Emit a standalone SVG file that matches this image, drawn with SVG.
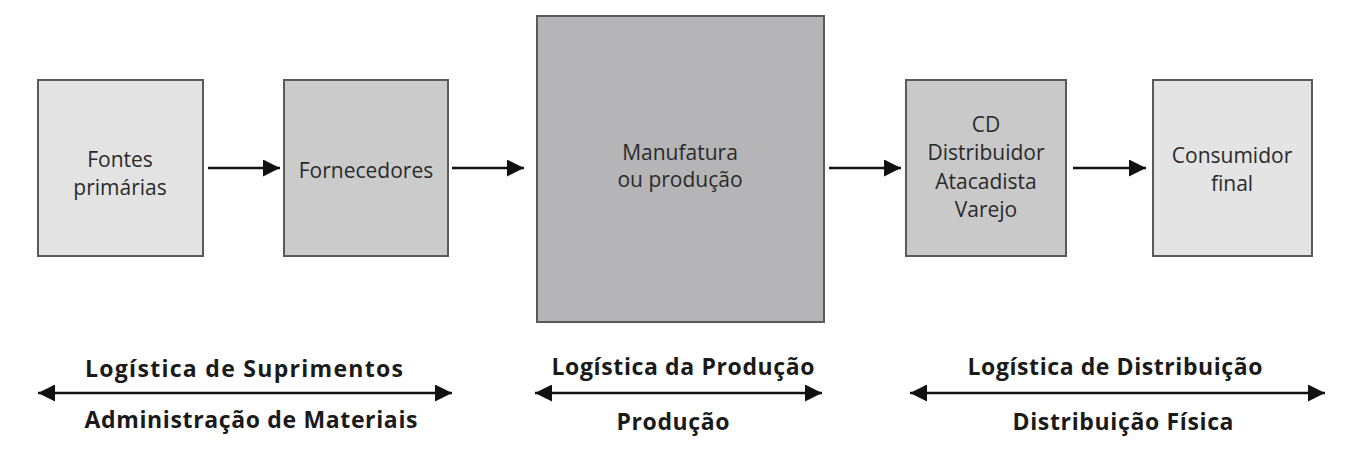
<svg xmlns="http://www.w3.org/2000/svg" width="1370" height="455" viewBox="0 0 1370 455">
<defs>
<style>
.box{stroke:#5a5a5a;stroke-width:2}
.t{font-family:"Open Sans","Noto Sans",sans-serif;font-size:21px;fill:#2a2a2a;text-anchor:middle}
.b{font-family:"Open Sans","Noto Sans",sans-serif;font-size:23px;font-weight:bold;fill:#1a1a1a;text-anchor:middle}
.c{stroke:#111;stroke-width:2.5;fill:none}
</style>
<marker id="ah" viewBox="0 0 10 10" refX="10" refY="5" markerWidth="19" markerHeight="17" markerUnits="userSpaceOnUse" orient="auto-start-reverse">
<path d="M0,0 L10,5 L0,10 Z" fill="#111"/>
</marker>
</defs>
<rect width="1370" height="455" fill="#ffffff"/>
<g id="n1"><rect class="box" x="38" y="80" width="165" height="176" fill="#e3e3e3"/>
<text class="t" x="120" y="167">Fontes</text><text class="t" x="120" y="195">primárias</text></g>
<g id="n2"><rect class="box" x="284" y="80" width="164" height="176" fill="#cbcbcb"/>
<text class="t" x="366" y="178">Fornecedores</text></g>
<g id="n3"><rect class="box" x="537" y="16" width="287" height="306" fill="#b5b5b7"/>
<text class="t" x="680" y="160">Manufatura</text><text class="t" x="680" y="187">ou produção</text></g>
<g id="n4"><rect class="box" x="906" y="80" width="160" height="176" fill="#c9c9c9"/>
<text class="t" x="986" y="132">CD</text><text class="t" x="986" y="160">Distribuidor</text><text class="t" x="986" y="189">Atacadista</text><text class="t" x="986" y="217">Varejo</text></g>
<g id="n5"><rect class="box" x="1153" y="80" width="159" height="176" fill="#e4e4e4"/>
<text class="t" x="1232" y="163">Consumidor</text><text class="t" x="1232" y="191">final</text></g>
<g id="connectors">
<line class="c" x1="208" y1="168" x2="280" y2="168" marker-end="url(#ah)"/>
<line class="c" x1="452" y1="168" x2="524" y2="168" marker-end="url(#ah)"/>
<line class="c" x1="829" y1="168" x2="901" y2="168" marker-end="url(#ah)"/>
<line class="c" x1="1073" y1="168" x2="1146" y2="168" marker-end="url(#ah)"/>
<line class="c" x1="38" y1="393" x2="452" y2="393" marker-start="url(#ah)" marker-end="url(#ah)"/>
<line class="c" x1="535" y1="393" x2="822" y2="393" marker-start="url(#ah)" marker-end="url(#ah)"/>
<line class="c" x1="910" y1="393" x2="1325" y2="393" marker-start="url(#ah)" marker-end="url(#ah)"/>
</g>
<g id="labels">
<text class="b" x="244" y="377" textLength="318" lengthAdjust="spacing">Logística de Suprimentos</text>
<text class="b" x="251" y="428" textLength="333" lengthAdjust="spacing">Administração de Materiais</text>
<text class="b" x="683" y="375" textLength="263" lengthAdjust="spacing">Logística da Produção</text>
<text class="b" x="673" y="430" textLength="113" lengthAdjust="spacing">Produção</text>
<text class="b" x="1115" y="375" textLength="295" lengthAdjust="spacing">Logística de Distribuição</text>
<text class="b" x="1123" y="430" textLength="221" lengthAdjust="spacing">Distribuição Física</text>
</g>
</svg>
